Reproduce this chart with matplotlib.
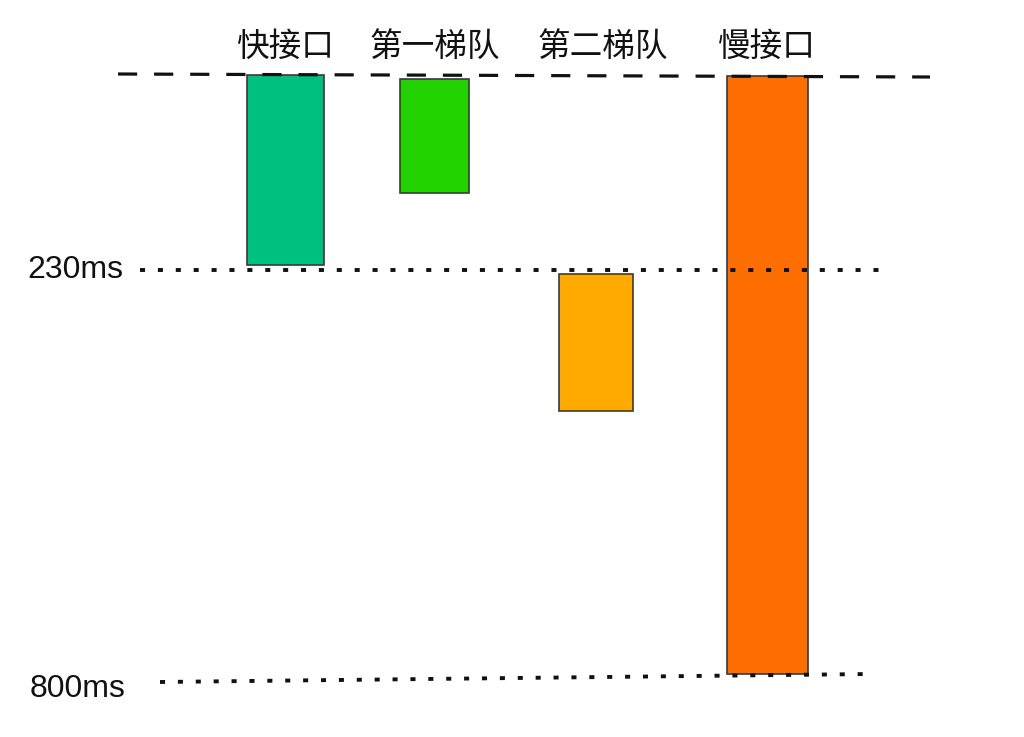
import numpy as np
import matplotlib
matplotlib.use("Agg")
import matplotlib.pyplot as plt

plt.rcParams['font.family'] = ['Noto Sans CJK SC', 'DejaVu Sans']

# ---- data ----
categories = ["快接口", "第一梯队", "第二梯队", "慢接口"]
start_ms = [0, 5, 236, 1]          # top of each bar (ms)
end_ms = [224, 139, 428, 797]      # bottom of each bar (ms)
colors = ["#00C080", "#22D200", "#FFAA00", "#FF6E00"]
ref_levels = [230, 800]
ref_labels = ["230ms", "800ms"]

# ---- layout (pixel-based canvas) ----
W, H = 1024, 737
fig = plt.figure(figsize=(W / 100, H / 100), dpi=100)
ax = fig.add_axes([0, 0, 1, 1])

# schematic, piecewise-linear time axis (ms -> pixel row)
ms_pts = np.array([-1000.0, 0.0, 230.0, 800.0, 2000.0])
px_pts = np.array([75 - 1000 * 0.848, 75.0, 270.0, 676.0, 676 + 1200 * 0.712])


def fwd(v):
    return np.interp(v, ms_pts, px_pts)


def inv(p):
    return np.interp(p, px_pts, ms_pts)


ax.set_yscale('function', functions=(fwd, inv))
ax.set_xlim(0, W)
ax.set_ylim(inv(H), inv(0))
ax.axis('off')

x_pos = [285.5, 434.5, 596, 767.5]
widths = [77, 69, 74, 81]
heights = [e - s for s, e in zip(start_ms, end_ms)]
ax.bar(x_pos, heights, bottom=start_ms, width=widths, color=colors,
       edgecolor="#3a3a3a", linewidth=1.2, zorder=2)

# category labels above bars
label_x = [285, 435, 603, 767]
for x, t in zip(label_x, categories):
    ax.text(x, inv(47), t, ha='center', va='center', fontsize=23.5, color='#111111')

# dashed top line
ax.plot([118, 930], [inv(74), inv(77)], color='#111111', lw=2.3,
        linestyle=(0, (6.0, 5.3)), zorder=3)

# dotted reference lines
dot_style = (0, (1.3, 3.3))
ax.plot([140, 885], [ref_levels[0], ref_levels[0]], color='#111111', lw=2.8,
        linestyle=dot_style, zorder=3)
ax.plot([160, 870], [inv(682), inv(674)], color='#111111', lw=2.8,
        linestyle=dot_style, zorder=3)

lab_font = ['Liberation Sans', 'DejaVu Sans']
ax.text(75, inv(270), ref_labels[0], ha='center', va='center', fontsize=23,
        family=lab_font, color='#111111')
ax.text(78, inv(689), ref_labels[1], ha='center', va='center', fontsize=23,
        family=lab_font, color='#111111')

fig.savefig("out.png", dpi=100)
